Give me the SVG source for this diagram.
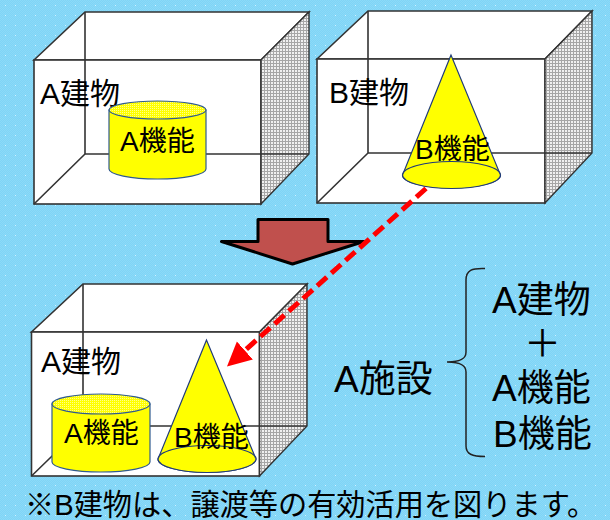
<svg xmlns="http://www.w3.org/2000/svg" width="610" height="520" viewBox="0 0 610 520">
<style>
.t{font-family:"Liberation Sans","Noto Sans CJK JP",sans-serif;fill:#000}
.s{font-size:28px}
.m{font-size:30px}
.b{font-size:37px}
.e{stroke:#333;stroke-width:1.6;fill:none}
.f{fill:#fff;stroke:#333;stroke-width:1.6}
.y{fill:#ff0;stroke:#2f5a8f;stroke-width:1.2}
.c{fill:#ff0;stroke:#1f3a7a;stroke-width:1.2}
</style>
<defs>
<pattern id="bg" width="10" height="10" patternUnits="userSpaceOnUse">
<rect width="10" height="10" fill="#80d4f6"/>
<path d="M0 0h1v1H0zM2 0h1v1H2zM4 0h1v1H4zM6 0h1v1H6zM8 0h1v1H8zM1 1h1v1H1zM3 1h1v1H3zM5 1h1v1H5zM7 1h1v1H7zM9 1h1v1H9zM0 2h1v1H0zM2 2h1v1H2zM4 2h1v1H4zM6 2h1v1H6zM8 2h1v1H8zM1 3h1v1H1zM3 3h1v1H3zM5 3h1v1H5zM7 3h1v1H7zM9 3h1v1H9zM0 4h1v1H0zM2 4h1v1H2zM4 4h1v1H4zM6 4h1v1H6zM8 4h1v1H8zM1 5h1v1H1zM3 5h1v1H3zM5 5h1v1H5zM7 5h1v1H7zM9 5h1v1H9zM0 6h1v1H0zM2 6h1v1H2zM4 6h1v1H4zM6 6h1v1H6zM8 6h1v1H8zM1 7h1v1H1zM3 7h1v1H3zM5 7h1v1H5zM7 7h1v1H7zM9 7h1v1H9zM0 8h1v1H0zM2 8h1v1H2zM4 8h1v1H4zM6 8h1v1H6zM8 8h1v1H8zM1 9h1v1H1zM3 9h1v1H3zM5 9h1v1H5zM7 9h1v1H7zM9 9h1v1H9z" fill="#8bdaf8"/>
<rect x="5" y="5" width="1" height="1" fill="#d4f2fd"/>
</pattern>
<pattern id="mesh" width="3" height="3" patternUnits="userSpaceOnUse">
<rect width="3" height="3" fill="#f0f0f0"/>
<rect width="1" height="3" fill="#a6a6a6"/>
<rect width="3" height="1" fill="#a6a6a6"/>
</pattern>
<pattern id="lid" width="2" height="2" patternUnits="userSpaceOnUse">
<rect width="2" height="2" fill="#ff0"/>
<rect width="1" height="1" fill="#ffff8c"/>
</pattern>
<marker id="ah" markerUnits="userSpaceOnUse" markerWidth="28" markerHeight="26" refX="2" refY="12" orient="auto">
<path d="M0 0L24 12L0 24z" fill="#f00"/>
</marker>
</defs>
<rect width="610" height="520" fill="url(#bg)"/>

<g id="building-a">
<path class="f" d="M34 60L85 12H309L261 60z"/>
<rect class="f" x="34" y="60" width="227" height="144"/>
<path d="M261 60L309 12V154L261 204z" fill="url(#mesh)" stroke="#333" stroke-width="1.4"/>
<path class="e" d="M85 12V154M85 154L34 204M85 154H309"/>
<text class="t m" x="40" y="104">A建物</text>
</g>
<g id="function-a-top">
<path class="y" d="M109 110V169A48.500 10 0 0 0 206 169V110z"/>
<ellipse class="y" cx="157.500" cy="110" rx="48.500" ry="9" style="fill:url(#lid)"/>
<text class="t s" x="120" y="151">A機能</text>
</g>

<g id="building-b">
<path class="f" d="M317 59L368 11H592L545 59z"/>
<rect class="f" x="317" y="59" width="228" height="144"/>
<path d="M545 59L592 11V153L545 203z" fill="url(#mesh)" stroke="#333" stroke-width="1.4"/>
<path class="e" d="M368 11V153M368 153L317 203M368 153H592"/>
<text class="t m" x="329" y="103">B建物</text>
</g>
<g id="function-b-top">
<path class="c" d="M451 55L402.500 175A49 13 0 0 0 500.500 175z"/>
<ellipse class="c" cx="451.500" cy="175" rx="49" ry="13.500"/>
<text class="t s" x="415" y="159">B機能</text>
</g>

<g id="transfer-arrow">
<path d="M258 219.500H328V241.500H364L292.500 264L221.500 241.500H258z" fill="#c0504d" stroke="#000" stroke-width="3" stroke-linejoin="round"/>
</g>

<g id="building-a-after">
<path class="f" d="M31.500 332L83 284H307L259.500 332z"/>
<rect class="f" x="31.500" y="332" width="228" height="144"/>
<path d="M259.500 332L307 284V426L259.500 476z" fill="url(#mesh)" stroke="#333" stroke-width="1.4"/>
<path class="e" d="M83 284V426M83 426L31.500 476M83 426H307"/>
<text class="t m" x="41" y="372">A建物</text>
</g>
<g id="function-a-bottom">
<path class="y" d="M52 404V462A49 10 0 0 0 150 462V404z"/>
<ellipse class="y" cx="101" cy="404" rx="49" ry="10" style="fill:url(#lid)"/>
<text class="t s" x="64" y="443">A機能</text>
</g>
<g id="function-b-bottom">
<path class="c" d="M206.500 340L158 459A49 13.500 0 0 0 256 459z"/>
<ellipse class="c" cx="207" cy="459" rx="49" ry="13.500"/>
<text class="t s" x="174" y="447">B機能</text>
</g>

<g id="connectors">
<path d="M426 188.500L243.400 351.800" fill="none" stroke="#f00" stroke-width="5" stroke-dasharray="13 6" marker-end="url(#ah)"/>
</g>

<g id="facility-label">
<text class="t b" x="334" y="392">A施設</text>
<path d="M485 268.500C472 268 466 270 466 280V352C466 358 462 362 447 362C462 362 466 366 466 372V446C466 454 472 456.500 485 456.500" fill="none" stroke="#222" stroke-width="1.500"/>
<text class="t b" x="492" y="313">A建物</text>
<text class="t b" x="542.500" y="357" text-anchor="middle">＋</text>
<text class="t b" x="492" y="401">A機能</text>
<text class="t b" x="493" y="447">B機能</text>
</g>

<text id="note" class="t" x="25" y="515" font-size="29.200">※B建物は、譲渡等の有効活用を図ります。</text>
</svg>
